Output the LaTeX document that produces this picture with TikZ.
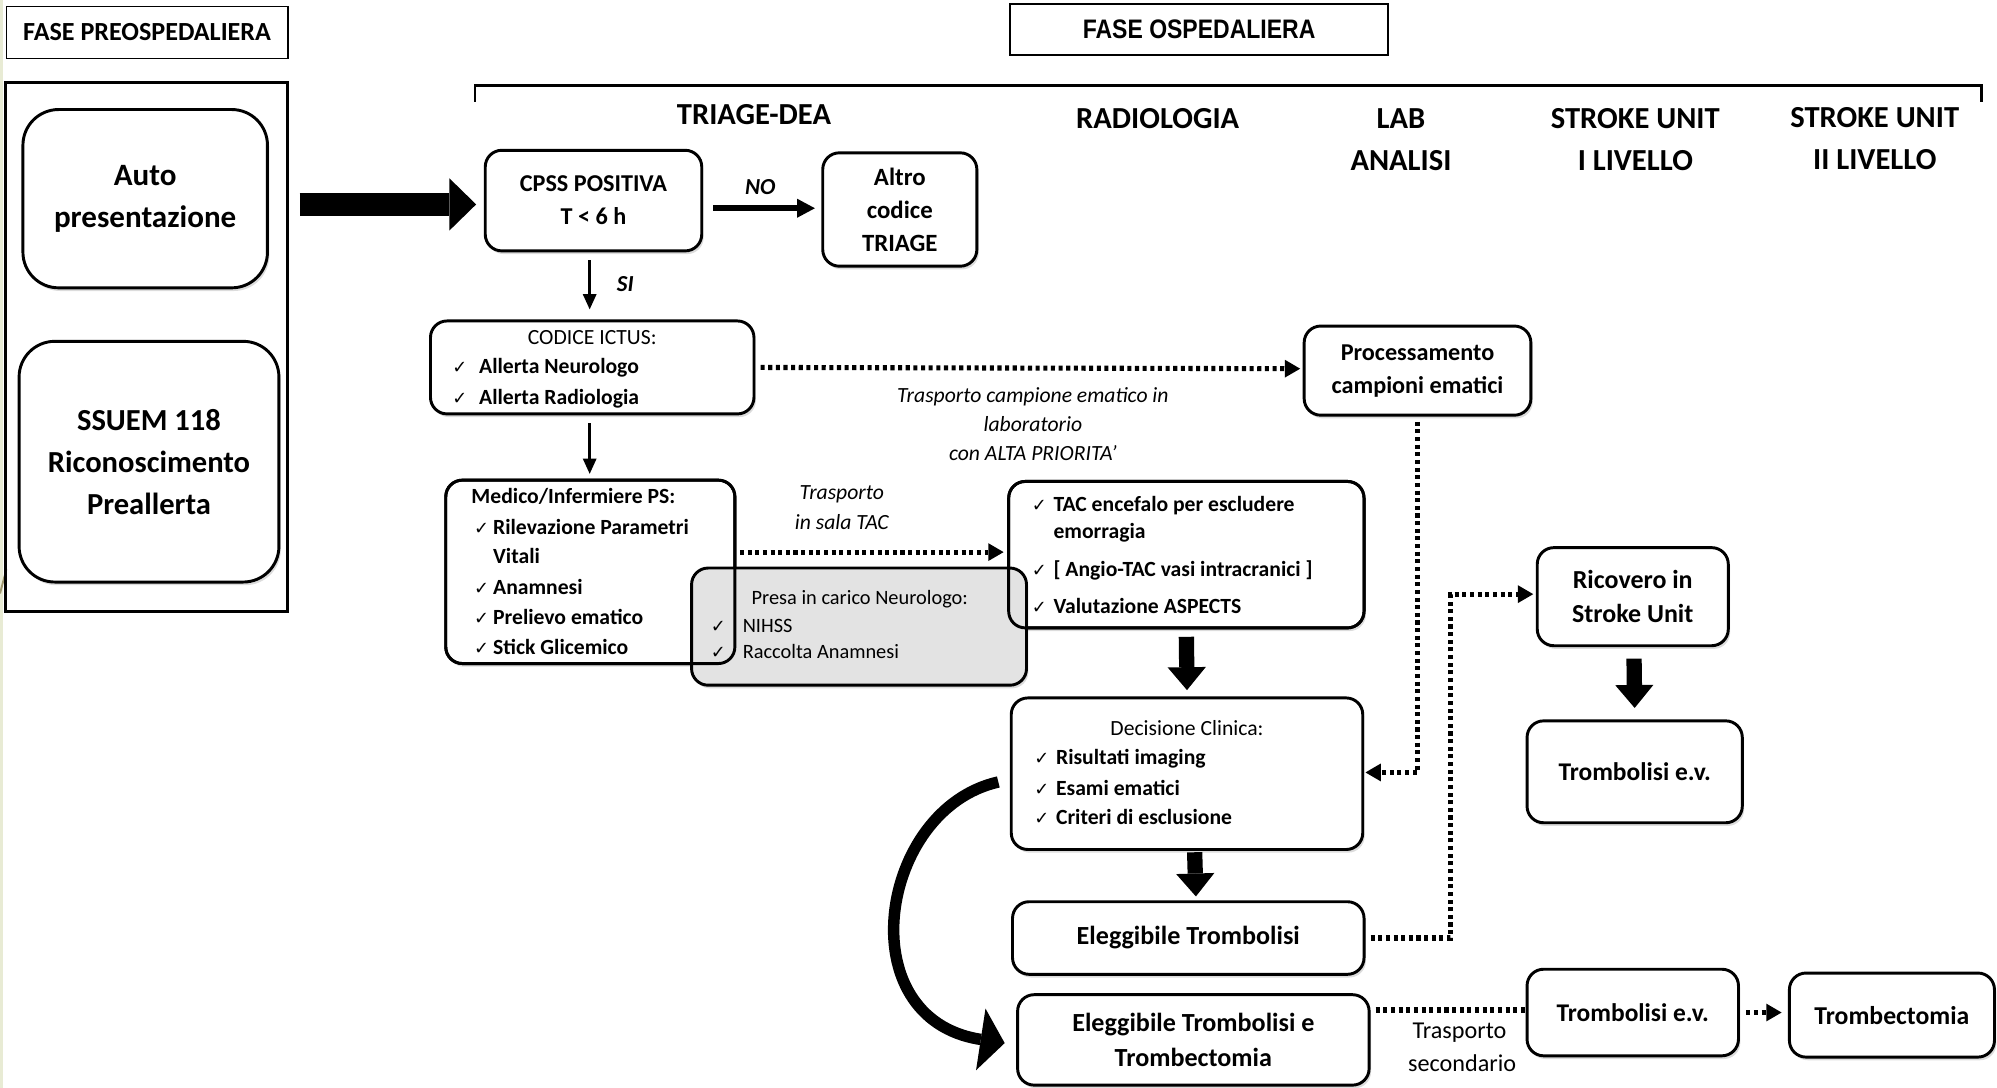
\documentclass[tikz,border=0pt]{standalone}
\usepackage{fontspec}
\setmainfont{Carlito}
\newfontfamily\arialfont[FakeStretch=0.86]{Liberation Sans}
\newfontfamily\ckfont{DejaVu Sans}
\usetikzlibrary{arrows.meta,shadows,calc}
\newcommand\fs[2]{\fontsize{#1}{#2}\selectfont}
\newcommand\ck{{\ckfont\fontsize{14}{14}\selectfont ✓}}
\begin{document}
\begin{tikzpicture}[x=1pt,y=-1pt,
 shd/.style={drop shadow={shadow xshift=1.5pt,shadow yshift=-2.5pt,opacity=0.28}},
 box/.style={draw,line width=2.3pt,rounded corners=13pt,fill=white,align=center,inner sep=0pt,shd},
 hdr/.style={align=center,inner sep=0pt,font=\bfseries\fs{24}{33}},
 lb/.style={anchor=base west,inner sep=0pt,font=\bfseries\fs{17}{20}},
 lr/.style={anchor=base west,inner sep=0pt,font=\fs{17}{20}},
 lab/.style={align=center,inner sep=0pt,font=\itshape\fs{17}{23}},
 bigarr/.style={line width=12pt,-{Triangle[length=18pt,width=30pt,line width=0pt]}},
 thinarr/.style={line width=2.6pt,-{Triangle[length=12pt,width=11pt,line width=0pt]}},
 dotline/.style={line width=4pt,dash pattern=on 3.2pt off 2.8pt},
 dotarr/.style={dotline,-{Triangle[length=12pt,width=14pt,line width=0pt]}},
]
\useasboundingbox (0,0) rectangle (1568,854);
% left edge decoration
\fill[color={rgb,255:red,232;green,235;blue,212}] (0,0) rectangle (2.5,854);
\draw[color={rgb,255:red,160;green,152;blue,112},line width=1.5pt] (0,466) -- (5,447);

% phase titles
\node[draw,line width=1.2pt,minimum width=221,minimum height=41,inner sep=0pt,font=\bfseries\fs{20.5}{24}] (pre) at (115.5,25.5) {FASE PREOSPEDALIERA};
\node[draw,line width=1.2pt,minimum width=297,minimum height=40,inner sep=0pt,font=\arialfont\bfseries\fs{21}{24}] (osp) at (941.5,23) {FASE OSPEDALIERA};
\draw[line width=2pt] (373,80) -- (373,67) -- (1556,67) -- (1556,80);

% column headers
\node[hdr] (h1) at (592,90) {TRIAGE-DEA};
\node[hdr] (h2) at (909,93) {RADIOLOGIA};
\node[hdr] (h3) at (1100,110) {LAB\\ANALISI};
\node[hdr] (h4) at (1284,109.5) {STROKE UNIT\\I LIVELLO};
\node[hdr] (h5) at (1472,108.5) {STROKE UNIT\\II LIVELLO};

% pre-hospital
\node[draw,line width=2.5pt,minimum width=222,minimum height=415,inner sep=0pt] (frame) at (115,272.5) {};
\node[box,rounded corners=28pt,minimum width=192,minimum height=140,font=\bfseries\fs{24.4}{33}] (auto) at (114,156) {Auto\\presentazione};
\node[box,rounded corners=28pt,minimum width=204,minimum height=189,font=\bfseries\fs{24}{33}] (ssuem) at (117,362.5) {SSUEM 118\\Riconoscimento\\Preallerta};

% triage
\node[box,minimum width=170,minimum height=79,font=\bfseries\fs{19}{26}] (cpss) at (466,157.5) {CPSS POSITIVA\\T < 6 h};
\node[box,minimum width=121,minimum height=89,font=\bfseries\fs{19.5}{26}] (altro) at (706.5,164.5) {Altro\\codice\\TRIAGE};
\node[box,minimum width=254,minimum height=73] (ictus) at (465,288.5) {};
\node[lr,anchor=base] (ic0) at (465,270.5) {CODICE ICTUS:};
\node[lb] (ic1) at (355,293.5) {\makebox[21pt][l]{\ck}Allerta Neurologo};
\node[lb] (ic2) at (355,317.5) {\makebox[21pt][l]{\ck}Allerta Radiologia};

\node[box,outer sep=0pt,minimum width=227,minimum height=144] (medico) at (463.5,449) {};
\node[box,outer sep=0pt,minimum width=279,minimum height=115] (tac) at (931.5,435.5) {};
\node[box,fill=black!11,minimum width=263,minimum height=92] (presa) at (674.5,492) {};
\draw[line width=2.3pt,rounded corners=13pt] (medico.south west) rectangle (medico.north east);
\draw[line width=2.3pt,rounded corners=13pt] (tac.south west) rectangle (tac.north east);

\node[lb] (m0) at (370,395.5) {Medico/Infermiere PS:};
\node[lb] (m1) at (372,419.5) {\makebox[15pt][l]{\ck}Rilevazione Parametri};
\node[lb] (m2) at (387,442.5) {Vitali};
\node[lb] (m3) at (372,466.5) {\makebox[15pt][l]{\ck}Anamnesi};
\node[lb] (m4) at (372,490.5) {\makebox[15pt][l]{\ck}Prelievo ematico};
\node[lb] (m5) at (372,513.5) {\makebox[15pt][l]{\ck}Stick Glicemico};

\node[lr,font=\fs{16}{20}] (p0) at (590,475) {Presa in carico Neurologo:};
\node[lr,font=\fs{16}{20}] (p1) at (558,497) {\makebox[25pt][l]{\ck}NIHSS};
\node[lr,font=\fs{16}{20}] (p2) at (558,517) {\makebox[25pt][l]{\ck}Raccolta Anamnesi};

\node[lb] (t1) at (810,401.5) {\makebox[17pt][l]{\ck}TAC encefalo per escludere};
\node[lb] (t2) at (827,422.5) {emorragia};
\node[lb] (t3) at (810,452.5) {\makebox[17pt][l]{\ck}[ Angio-TAC vasi intracranici ]};
\node[lb] (t4) at (810,481.5) {\makebox[17pt][l]{\ck}Valutazione ASPECTS};

% lab
\node[box,minimum width=178,minimum height=70,font=\bfseries\fs{19}{26}] (proc) at (1113,291) {Processamento\\campioni ematici};

% decision
\node[box,minimum width=276,minimum height=119] (dec) at (932,607.5) {};
\node[lr,anchor=base] (d0) at (932,577.5) {Decisione Clinica:};
\node[lb] (d1) at (812,600.5) {\makebox[17pt][l]{\ck}Risultati imaging};
\node[lb] (d2) at (812,624.5) {\makebox[17pt][l]{\ck}Esami ematici};
\node[lb] (d3) at (812,647.5) {\makebox[17pt][l]{\ck}Criteri di esclusione};

\node[box,minimum width=276,minimum height=57,font=\bfseries\fs{20.5}{27}] (eleg) at (933,736.5) {Eleggibile Trombolisi};
\node[box,minimum width=276,minimum height=71,font=\bfseries\fs{20.5}{27}] (etet) at (937,816.5) {Eleggibile Trombolisi e\\Trombectomia};

% stroke units
\node[box,minimum width=150,minimum height=77,font=\bfseries\fs{20.4}{27}] (ric) at (1282,468.5) {Ricovero in\\Stroke Unit};
\node[box,minimum width=169,minimum height=80,font=\bfseries\fs{20}{26}] (tromb1) at (1283.5,606) {Trombolisi e.v.};
\node[box,minimum width=166,minimum height=68,font=\bfseries\fs{20}{26}] (tromb2) at (1282,795) {Trombolisi e.v.};
\node[box,minimum width=161,minimum height=66,font=\bfseries\fs{20.2}{26}] (tbect) at (1485.5,797) {Trombectomia};

% labels
\node[inner sep=0pt,font=\bfseries\itshape\fs{18}{20}] (lno) at (597,147) {NO};
\node[inner sep=0pt,font=\bfseries\itshape\fs{18}{20}] (lsi) at (491,223) {SI};
\node[lab] (ltac) at (661,398.5) {Trasporto\\in sala TAC};
\node[lab] (llab) at (811,333) {Trasporto campione ematico in\\laboratorio\\con ALTA PRIORITA’};
\node[align=center,inner sep=0pt,font=\fs{19}{26}] (lsec) at (1146,822) {Trasporto\\\hspace*{4pt}secondario};

% connectors
\draw[line width=18pt,-{Triangle[length=21pt,width=41pt,line width=0pt]}] ($(frame.east|-cpss.west)+(8,3)$) -- ($(cpss.west)+(-6,3)$);
\draw[line width=4.5pt,-{Triangle[length=14pt,width=15pt,line width=0pt]}] ($(cpss.east|-altro.west)+(8,-1)$) -- ($(altro.west)+(-5,-1)$);
\draw[thinarr] ($(cpss.south)+(-3,6)$) -- ($(cpss.south|-ictus.north)+(-3,-8)$);
\draw[thinarr] ($(ictus.south)+(-2,6)$) -- ($(ictus.south|-medico.north)+(-2,-5)$);
\draw[dotarr] ($(ictus.east)+(4,0)$) -- ($(ictus.east-|proc.west)+(-2,1)$);
\draw[dotarr] ($(medico.east|-tac.west)+(4,-2)$) -- ($(tac.west)+(-4,-2)$);
\draw[dotarr] ($(proc.south)+(0,4)$) |- ($(dec.east)+(1,-1)$);
\draw[bigarr] ($(tac.south)+(0,7)$) -- ($(dec.north)+(0,-5)$);
\draw[bigarr] ($(dec.south)+(6,1)$) -- ($(eleg.north)+(6,-3)$);
\draw[bigarr] ($(ric.south)+(1,9)$) -- ($(tromb1.north)+(0,-9)$);
\draw[line width=9pt,-{Triangle[length=19pt,width=49pt,line width=0pt]}] ($(dec.west)+(-9,6.5)$) .. controls (690,635) and (665,800) .. ($(etet.west)+(-9,2.5)$);
\draw[dotarr] ($(eleg.east)+(4,0)$) -- ($(eleg.east)+(67,0)$) |- ($(ric.west)+(-2,-2)$);
\draw[dotline] ($(etet.east|-tromb2.west)+(4,-2)$) -- ($(tromb2.west)+(0,-2)$);
\draw[dotarr] ($(tromb2.east)+(5,0)$) -- ($(tbect.west)+(-5,-2)$);
\end{tikzpicture}
\end{document}
